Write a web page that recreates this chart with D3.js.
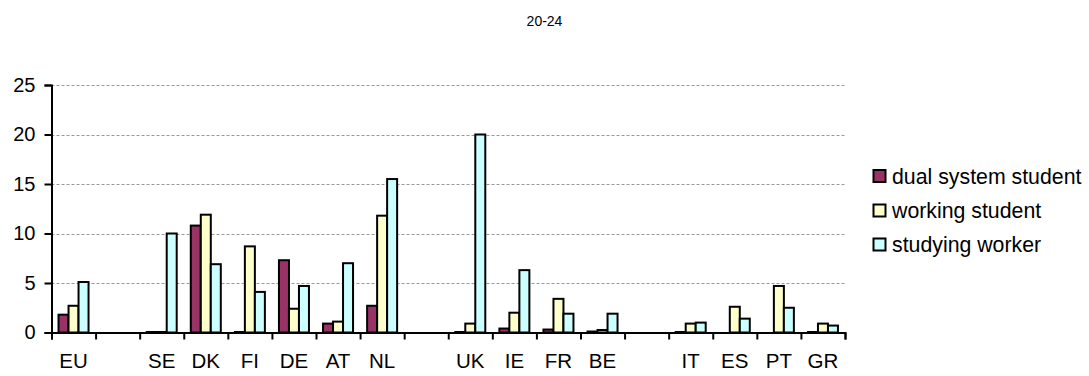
<!DOCTYPE html>
<html>
<head>
<meta charset="utf-8">
<script src="https://cdn.jsdelivr.net/npm/d3@7"></script>
<style>
  html, body { margin: 0; padding: 0; background: #fff; }
  svg { display: block; font-family: "Liberation Sans", Arial, sans-serif; }
</style>
</head>
<body>
<svg id="chart" width="1089" height="376"></svg>
<script>
// ---- data ----
const categories = ["EU", "", "SE", "DK", "FI", "DE", "AT", "NL", "", "UK", "IE", "FR", "BE", "", "IT", "ES", "PT", "GR"];
const seriesNames = ["dual system student", "working student", "studying worker"];
const dualSystem = [1.8, null, 0.05, 10.8, 0.05, 7.3, 0.9, 2.7, null, 0.05, 0.4, 0.3, 0.1, null, 0.05, 0, 0, 0.05];
const workingStudent = [2.7, null, 0.05, 11.9, 8.7, 2.4, 1.1, 11.8, null, 0.9, 2.0, 3.4, 0.25, null, 0.9, 2.6, 4.7, 0.9];
const studyingWorker = [5.1, null, 10.0, 6.9, 4.1, 4.7, 7.0, 15.5, null, 20.0, 6.3, 1.9, 1.9, null, 1.0, 1.4, 2.5, 0.7];
const yTicks = [0, 5, 10, 15, 20, 25];
const title = "20-24";
const colors = ["#993366", "#FFFFCC", "#CCFFFF"];

const series = [dualSystem, workingStudent, studyingWorker];

const svg = d3.select("#chart");
const mLeft = 51.5, mRight = 845, mTop = 85, mBottom = 332.5;

const x = d3.scaleBand().domain(d3.range(categories.length)).range([mLeft, mRight]).paddingInner(0).paddingOuter(0);
const xEdge = d3.scaleLinear().domain([0, categories.length]).range([mLeft, mRight]);
const barW = 10;
const groupOffset = (x.bandwidth() - barW * 3) / 2;
const y = d3.scaleLinear().domain([0, 25]).range([mBottom, mTop]);

// title
svg.append("text").attr("x", 544.5).attr("y", 26).attr("text-anchor", "middle")
  .attr("font-size", 14).attr("fill", "#000").text(title);

// gridlines
svg.append("g").selectAll("line").data(yTicks.filter(d => d > 0)).join("line")
  .attr("x1", mLeft).attr("x2", mRight)
  .attr("y1", d => Math.round(y(d)) + 0.5).attr("y2", d => Math.round(y(d)) + 0.5)
  .attr("stroke", "#999").attr("stroke-width", 1).attr("stroke-dasharray", "3,2");

// bars
const gBars = svg.append("g");
series.forEach((vals, si) => {
  gBars.append("g").selectAll("rect")
    .data(vals.map((v, i) => ({ v, i })).filter(d => d.v !== null && d.v > 0))
    .join("rect")
    .attr("x", d => x(d.i) + groupOffset + si * barW)
    .attr("y", d => y(d.v))
    .attr("width", barW)
    .attr("height", d => y(0) - y(d.v))
    .attr("fill", colors[si])
    .attr("stroke", "#000")
    .attr("stroke-width", 2);
});

// y axis
const yAxis = svg.append("g").attr("transform", `translate(${mLeft},0)`)
  .call(d3.axisLeft(y).tickValues(yTicks).tickSize(7).tickPadding(9));
yAxis.select(".domain").attr("stroke", "#000").attr("stroke-width", 2);
yAxis.selectAll(".tick line").attr("stroke", "#000").attr("stroke-width", 2);
yAxis.selectAll(".tick text").attr("font-size", 20).attr("fill", "#000")
  .attr("font-family", "Liberation Sans, Arial, sans-serif");

// x axis: tick marks at category boundaries
const xAxis = svg.append("g").attr("transform", `translate(0,${mBottom})`)
  .call(d3.axisBottom(xEdge).tickValues(d3.range(categories.length + 1)).tickSize(7).tickFormat(""));
xAxis.select(".domain").attr("stroke", "#000").attr("stroke-width", 2);
xAxis.selectAll(".tick line").attr("stroke", "#000").attr("stroke-width", 2);

// x labels
const xLab = svg.append("g").attr("transform", `translate(0,${mBottom})`)
  .call(d3.axisBottom(x).tickSize(0).tickPadding(21).tickFormat(i => categories[i]));
xLab.select(".domain").remove();
xLab.selectAll(".tick text").attr("font-size", 20.5).attr("fill", "#000")
  .attr("font-family", "Liberation Sans, Arial, sans-serif");

// legend
const legend = svg.append("g");
const legY = [176, 210.5, 244.5];
seriesNames.forEach((name, i) => {
  legend.append("rect").attr("x", 873.5).attr("y", legY[i] - 6).attr("width", 12).attr("height", 12)
    .attr("fill", colors[i]).attr("stroke", "#000").attr("stroke-width", 2);
  legend.append("text").attr("x", 892).attr("y", legY[i] + 7.5).attr("font-size", 21.3)
    .attr("fill", "#000").text(name);
});
</script>
</body>
</html>
